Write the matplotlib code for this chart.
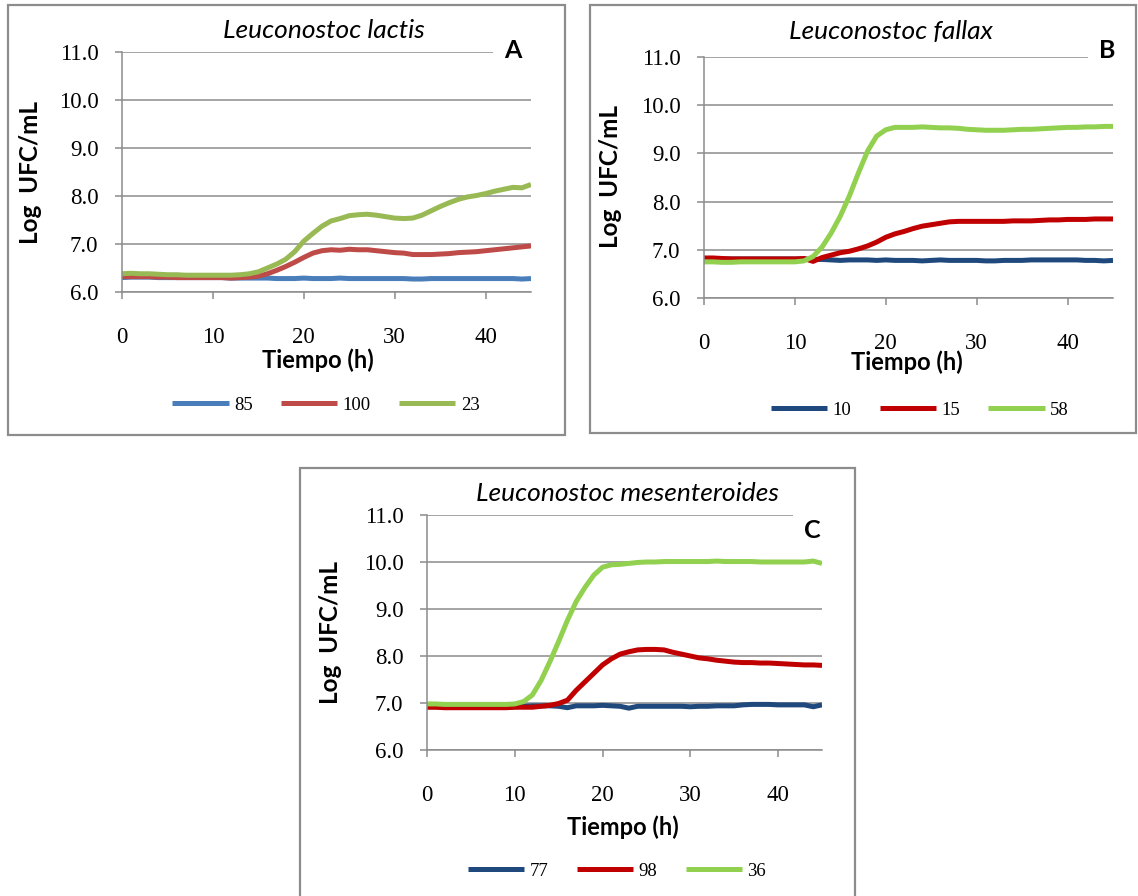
import matplotlib
matplotlib.use("Agg")
import matplotlib.pyplot as plt
from matplotlib.patches import Rectangle

# hours of the measurement
hours = list(range(46))

# panel A - Leuconostoc lactis
a_labels = ["85", "100", "23"]
a_85 = [6.30, 6.31, 6.31, 6.31, 6.30, 6.30, 6.30, 6.30, 6.30, 6.30, 6.30, 6.30, 6.29, 6.29, 6.29, 6.29,
        6.29, 6.28, 6.28, 6.28, 6.29, 6.28, 6.28, 6.28, 6.29, 6.28, 6.28, 6.28, 6.28, 6.28, 6.28, 6.28,
        6.27, 6.27, 6.28, 6.28, 6.28, 6.28, 6.28, 6.28, 6.28, 6.28, 6.28, 6.28, 6.27, 6.28]
a_100 = [6.32, 6.32, 6.32, 6.32, 6.31, 6.31, 6.30, 6.30, 6.30, 6.30, 6.30, 6.30, 6.29, 6.30, 6.31, 6.33,
         6.38, 6.45, 6.53, 6.62, 6.72, 6.81, 6.86, 6.88, 6.87, 6.89, 6.88, 6.88, 6.86, 6.84, 6.82, 6.81,
         6.78, 6.78, 6.78, 6.79, 6.80, 6.82, 6.83, 6.84, 6.86, 6.88, 6.90, 6.92, 6.94, 6.96]
a_23 = [6.38, 6.39, 6.38, 6.38, 6.37, 6.36, 6.36, 6.35, 6.35, 6.35, 6.35, 6.35, 6.35, 6.36, 6.38, 6.42,
        6.50, 6.58, 6.68, 6.84, 7.06, 7.22, 7.37, 7.48, 7.53, 7.59, 7.61, 7.62, 7.60, 7.57, 7.54, 7.53,
        7.54, 7.60, 7.69, 7.78, 7.86, 7.93, 7.98, 8.01, 8.05, 8.10, 8.14, 8.18, 8.17, 8.24]

# panel B - Leuconostoc fallax
b_labels = ["10", "15", "58"]
b_10 = [6.82, 6.82, 6.81, 6.81, 6.81, 6.81, 6.81, 6.81, 6.81, 6.81, 6.81, 6.81, 6.80, 6.80, 6.79, 6.78,
        6.79, 6.79, 6.79, 6.78, 6.79, 6.78, 6.78, 6.78, 6.77, 6.78, 6.79, 6.78, 6.78, 6.78, 6.78, 6.77,
        6.77, 6.78, 6.78, 6.78, 6.79, 6.79, 6.79, 6.79, 6.79, 6.79, 6.78, 6.78, 6.77, 6.78]
b_15 = [6.83, 6.83, 6.82, 6.81, 6.81, 6.81, 6.81, 6.81, 6.81, 6.81, 6.81, 6.82, 6.76, 6.84, 6.89, 6.94,
        6.97, 7.02, 7.08, 7.16, 7.26, 7.33, 7.38, 7.44, 7.49, 7.52, 7.55, 7.58, 7.59, 7.59, 7.59, 7.59,
        7.59, 7.59, 7.60, 7.60, 7.60, 7.61, 7.62, 7.62, 7.63, 7.63, 7.63, 7.64, 7.64, 7.64]
b_58 = [6.75, 6.75, 6.74, 6.74, 6.75, 6.75, 6.75, 6.75, 6.75, 6.75, 6.75, 6.77, 6.86, 7.06, 7.35, 7.70,
        8.12, 8.60, 9.05, 9.36, 9.49, 9.54, 9.54, 9.54, 9.55, 9.54, 9.53, 9.53, 9.52, 9.50, 9.49, 9.48,
        9.48, 9.48, 9.49, 9.50, 9.50, 9.51, 9.52, 9.53, 9.54, 9.54, 9.55, 9.55, 9.56, 9.56]

# panel C - Leuconostoc mesenteroides
c_labels = ["77", "98", "36"]
c_77 = [6.92, 6.92, 6.92, 6.91, 6.91, 6.91, 6.91, 6.91, 6.91, 6.91, 6.92, 6.93, 6.94, 6.94, 6.94, 6.93,
        6.90, 6.94, 6.94, 6.94, 6.95, 6.94, 6.93, 6.89, 6.93, 6.93, 6.93, 6.93, 6.93, 6.93, 6.92, 6.93,
        6.93, 6.94, 6.94, 6.94, 6.96, 6.97, 6.97, 6.97, 6.96, 6.96, 6.96, 6.96, 6.92, 6.96]
c_98 = [6.91, 6.91, 6.90, 6.90, 6.90, 6.90, 6.90, 6.90, 6.90, 6.90, 6.91, 6.91, 6.91, 6.93, 6.95, 6.99,
        7.06, 7.27, 7.45, 7.63, 7.81, 7.94, 8.04, 8.09, 8.13, 8.14, 8.14, 8.13, 8.08, 8.04, 8.00, 7.96,
        7.94, 7.91, 7.89, 7.87, 7.86, 7.86, 7.85, 7.85, 7.84, 7.83, 7.82, 7.81, 7.81, 7.80]
c_36 = [6.98, 6.98, 6.97, 6.97, 6.97, 6.97, 6.97, 6.97, 6.97, 6.97, 6.98, 7.03, 7.17, 7.48, 7.88, 8.31,
        8.76, 9.16, 9.46, 9.72, 9.89, 9.94, 9.95, 9.97, 9.99, 10.00, 10.00, 10.01, 10.01, 10.01, 10.01, 10.01,
        10.01, 10.02, 10.01, 10.01, 10.01, 10.01, 10.00, 10.00, 10.00, 10.00, 10.00, 10.00, 10.02, 9.97]

yticks = [6.0, 7.0, 8.0, 9.0, 10.0, 11.0]
xticks = [0, 10, 20, 30, 40]

W, H = 1138, 896
fig = plt.figure(figsize=(W / 100, H / 100), dpi=100)
grey = "#8c8c8c"


def fx(px):
    return px / W


def fy(py):
    return 1 - py / H


def panel(frame, box, title, title_xy, letter, letter_xy, series, labels, colors,
          ylab_xy, xlab_xy, leg_xy):
    # outer frame of the chart
    x0, y0, x1, y1 = frame
    fig.patches.append(Rectangle((fx(x0), fy(y1)), fx(x1 - x0), (y1 - y0) / H,
                                 transform=fig.transFigure, fill=False,
                                 edgecolor=grey, linewidth=1.6))
    l, t, r, b = box
    ax = fig.add_axes([fx(l), fy(b), fx(r - l), (b - t) / H])
    for s, c in zip(series, colors):
        ax.plot(hours, s, color=c, linewidth=3.6, solid_capstyle="butt")
    ax.set_xlim(0, 45)
    ax.set_ylim(6, 11)
    ax.set_xticks(xticks)
    ax.set_yticks(yticks)
    ax.set_yticklabels([f"{v:.1f}" for v in yticks])
    ax.grid(axis="y", color=grey, linewidth=1.1)
    ax.set_axisbelow(True)
    for sp in ["top", "right"]:
        ax.spines[sp].set_visible(False)
    for sp in ["left", "bottom"]:
        ax.spines[sp].set_color(grey)
        ax.spines[sp].set_linewidth(1.1)
    ax.tick_params(axis="y", direction="out", length=5, width=1.1, color=grey, pad=12,
                   labelsize=16.5)
    ax.tick_params(axis="x", direction="out", length=5, width=1.1, color=grey, pad=20,
                   labelsize=16.5)
    for lab in ax.get_xticklabels() + ax.get_yticklabels():
        lab.set_fontfamily("Liberation Serif")
    fig.text(fx(title_xy[0]), fy(title_xy[1]), title, ha="center", va="center",
             fontsize=19, style="italic", family="Lato")
    # the letter sits on a white box that hides the end of the top gridline
    fig.text(fx(letter_xy[0]), fy(letter_xy[1]), letter, ha="center", va="center",
             fontsize=18, weight="bold", family="Lato",
             bbox=dict(facecolor="white", edgecolor="none", pad=8))
    fig.text(fx(ylab_xy[0]), fy(ylab_xy[1]), "Log  UFC/mL", rotation=90, ha="center",
             va="center", fontsize=17.5, weight="bold", family="Lato")
    fig.text(fx(xlab_xy[0]), fy(xlab_xy[1]), "Tiempo (h)", ha="center", va="center",
             fontsize=17, weight="bold", family="Lato")
    handles = ax.get_lines()
    fig.legend(handles, labels, loc="center", bbox_to_anchor=(fx(leg_xy[0]), fy(leg_xy[1])),
               ncol=3, frameon=False, handlelength=3.0, handletextpad=0.3,
               columnspacing=1.5, prop={"family": "Liberation Serif", "size": 13.5})
    return ax


colors_a = ["#4A7EBB", "#BE4B48", "#98B954"]
colors_bc = ["#1F497D", "#C00000", "#92D050"]

panel((8, 5, 565, 435), (122, 52, 531, 292), "Leuconostoc lactis", (324, 31),
      "A", (513, 51), [a_85, a_100, a_23], a_labels, colors_a,
      (31, 172), (318, 360), (326, 405))

panel((590, 5, 1136, 433), (704, 57, 1113, 298), "Leuconostoc fallax", (891, 31),
      "B", (1107, 50), [b_10, b_15, b_58], b_labels, colors_bc,
      (611, 177), (907, 362), (920, 410))

panel((300, 468, 855, 900), (427, 515, 822, 750), "Leuconostoc mesenteroides", (627, 493),
      "C", (812, 530), [c_77, c_98, c_36], c_labels, colors_bc,
      (330, 632), (623, 827), (617, 871))

fig.savefig("out.png", dpi=100)
